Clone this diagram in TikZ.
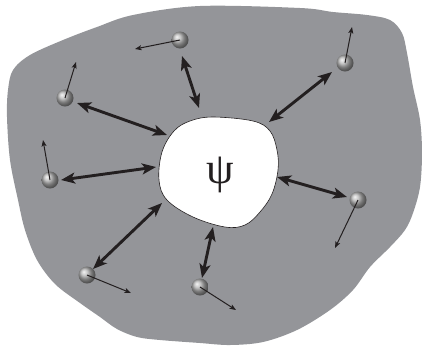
\documentclass[tikz,border=0pt]{standalone}
\usepackage{fontspec}
\newfontfamily\psifont{Liberation Serif}
\usetikzlibrary{arrows.meta}
\definecolor{bggray}{RGB}{148,149,153}
\definecolor{ink}{RGB}{35,31,32}
\tikzset{
  ballnode/.style={circle, minimum size=17pt, inner sep=0pt, ball color=gray!60, shading=ball},
  bond/.style={ink, line width=2.9pt, {Stealth[length=14pt,width=11pt,inset=3.5pt]}-{Stealth[length=14pt,width=11pt,inset=3.5pt]}},
  motion/.style={ink, line width=1pt, -{Stealth[length=6.5pt,width=5pt,inset=1.5pt]}}
}
\begin{document}
\begin{tikzpicture}[x=1pt,y=-1pt]
\useasboundingbox (0,0) rectangle (422,346);
% outer medium
\fill[bggray] plot[smooth cycle, tension=0.55] coordinates {
 (13,70) (30,55) (63,40) (97,27) (133,15) (200,6) (300,8) (333,12) (367,15) (390,20)
 (402,33) (407,53) (413,87) (420,120) (422,153) (420,187) (413,213) (405,230)
 (390,247) (370,267) (353,290) (330,310) (297,330) (263,342) (230,345) (200,343)
 (160,340) (137,337) (117,329) (100,317) (80,303) (55,284) (37,260) (25,230)
 (18,200) (10,160) (7,117) (8,90)};
% inner cavity
\draw[fill=white, draw=ink, line width=0.6pt] plot[smooth cycle, tension=0.6] coordinates {
 (213,117) (253,121) (270,131) (277,150) (278,170) (272,194) (260,212) (245,225)
 (225,227) (193,217) (167,200) (159,180) (162,152) (174,131) (190,121)};
\node[font=\psifont\fontsize{44}{44}\selectfont, text=ink] (psi) at (220,175) {ψ};
% particles
\node[ballnode] (p1) at (180,40) {};
\node[ballnode] (p2) at (345,63) {};
\node[ballnode] (p3) at (65,98) {};
\node[ballnode] (p4) at (50,180) {};
\node[ballnode] (p5) at (358,200) {};
\node[ballnode] (p6) at (87,275) {};
\node[ballnode] (p7) at (200,287) {};
% motion arrow tips
\coordinate (m1) at (135,49);
\coordinate (m2) at (352,27);
\coordinate (m3) at (76,62);
\coordinate (m4) at (43,140);
\coordinate (m5) at (335,248);
\coordinate (m6) at (131,293);
\coordinate (m7) at (236,310);
\draw[motion] (p1.center) -- (m1);
\draw[motion] (p2.center) -- (m2);
\draw[motion] (p3.center) -- (m3);
\draw[motion] (p4.center) -- (m4);
\draw[motion] (p5.center) -- (m5);
\draw[motion] (p6.center) -- (m6);
\draw[motion] (p7.center) -- (m7);
% bonds: particle end and cavity end
\coordinate (a1) at (182,56);  \coordinate (b1) at (199,108);
\coordinate (a2) at (332,72);  \coordinate (b2) at (269,122);
\coordinate (a3) at (77,103);  \coordinate (b3) at (167,135);
\coordinate (a4) at (61,180);  \coordinate (b4) at (156,167);
\coordinate (a5) at (347,197); \coordinate (b5) at (277,177);
\coordinate (a6) at (93,269);  \coordinate (b6) at (162,203);
\coordinate (a7) at (202,278); \coordinate (b7) at (213,227);
\draw[bond] (a1) -- (b1);
\draw[bond] (a2) -- (b2);
\draw[bond] (a3) -- (b3);
\draw[bond] (a4) -- (b4);
\draw[bond] (a5) -- (b5);
\draw[bond] (a6) -- (b6);
\draw[bond] (a7) -- (b7);
\end{tikzpicture}
\end{document}
